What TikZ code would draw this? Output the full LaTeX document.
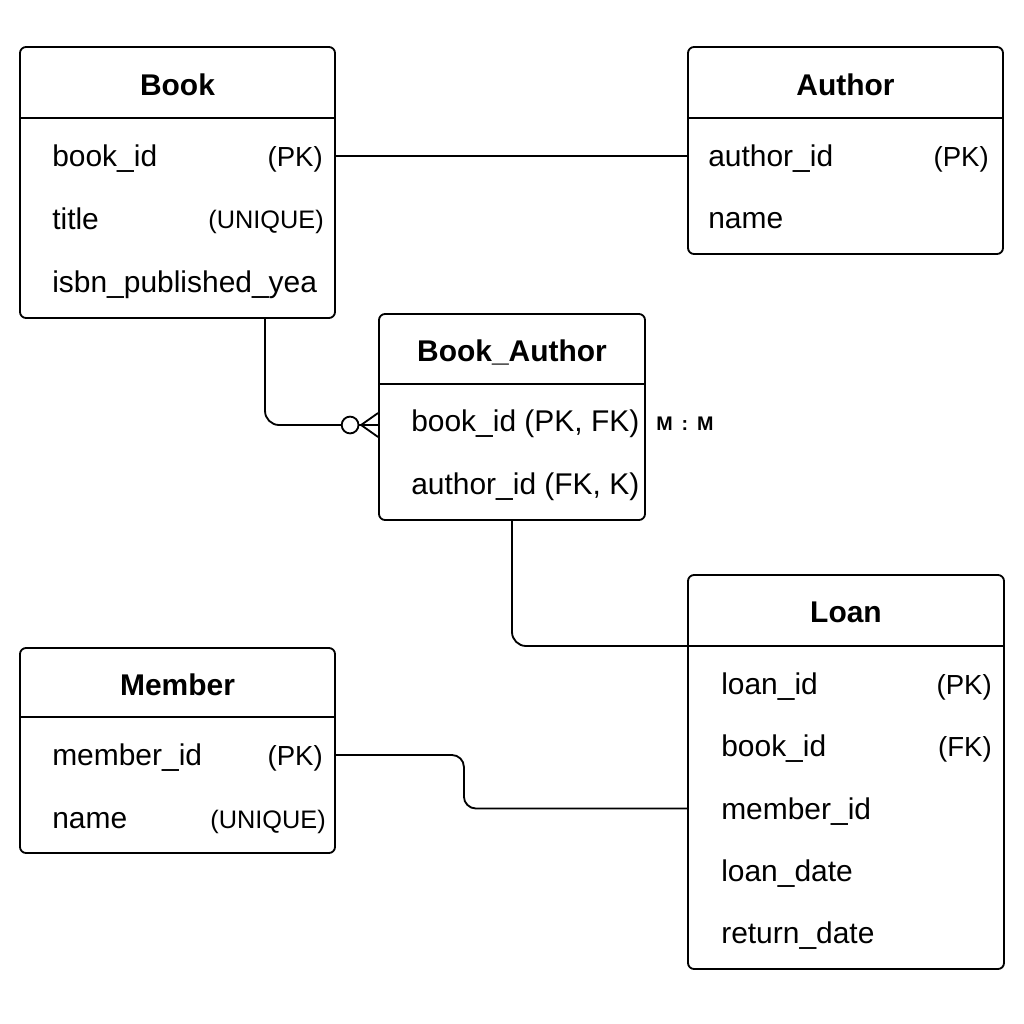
\documentclass[tikz,border=0pt]{standalone}
\usepackage{fontspec}
\setmainfont{Liberation Sans}
\usetikzlibrary{fit}

\tikzset{
  tbl/.style={draw,line width=1.3pt,rounded corners=4.3pt,inner sep=0pt},
  ttl/.style={inner sep=0pt,text height=15.2pt,text depth=0pt,font=\fontsize{21.3}{25}\selectfont\bfseries},
  attr/.style={anchor=west,inner sep=0pt,text height=15.2pt,text depth=0pt,font=\fontsize{21.3}{25}\selectfont},
  keytag/.style={anchor=east,inner sep=0pt,text height=15.2pt,text depth=0pt,font=\fontsize{19.6}{23}\selectfont},
  uqtag/.style={keytag,font=\fontsize{18}{22}\selectfont},
  card/.style={inner sep=0pt,font=\fontsize{14}{16}\selectfont\bfseries},
  link/.style={line width=1.3pt,rounded corners=10pt},
}

\begin{document}
\begin{tikzpicture}[x=0.025cm,y=-0.025cm]
\useasboundingbox (0,0) rectangle (1024,1024);
% tables
\node[tbl,fit={(20,47)(335,318)}] (book) {};
\node[tbl,fit={(688,47)(1003,254)}] (author) {};
\node[tbl,fit={(379,314)(645,520)}] (bookauthor) {};
\node[tbl,fit={(688,575)(1004,969)}] (loan) {};
\node[tbl,fit={(20,648)(335,853)}] (member) {};
\foreach \t/\y in {book/118,author/118,bookauthor/384,loan/646,member/717}{
  \coordinate (\t-hd) at (\t.west |- 0,\y);
  \draw[line width=1.3pt] (\t-hd) -- (\t-hd -| \t.east);
}
% titles
\node[ttl] (booktitle) at (book.north |- 0,85) {Book};
\node[ttl] (authortitle) at (author.north |- 0,85) {Author};
\node[ttl] (bookauthortitle) at (bookauthor.north |- 0,351) {Book\_Author};
\node[ttl] (loantitle) at (loan.north |- 0,612) {Loan};
\node[ttl] (membertitle) at (member.north |- 0,685) {Member};
% attributes
\foreach \txt [count=\i] in {book\_id,title,isbn\_published\_yea}
  \node[attr] (book\i) at (52,{156+63*(\i-1)}) {\txt};
\foreach \txt [count=\i] in {author\_id,name}
  \node[attr] (author\i) at (708,{156+62*(\i-1)}) {\txt};
\foreach \txt [count=\i] in {{book\_id (PK, FK)},{author\_id (FK, K)}}
  \node[attr] (bookauthor\i) at (411,{421+63*(\i-1)}) {\txt};
\foreach \txt [count=\i] in {loan\_id,book\_id,member\_id,loan\_date,return\_date}
  \node[attr] (loan\i) at (721,{684+62.25*(\i-1)}) {\txt};
\foreach \txt [count=\i] in {member\_id,name}
  \node[attr] (member\i) at (52,{755+63*(\i-1)}) {\txt};
% keys
\node[keytag] (bookpk) at (323,156) {(PK)};
\node[uqtag] (bookuq) at (324,218) {(UNIQUE)};
\node[keytag] (authorpk) at (989,156) {(PK)};
\node[keytag] (loanpk) at (992,684) {(PK)};
\node[keytag] (loanfk) at (992,746) {(FK)};
\node[keytag] (memberpk) at (323,755) {(PK)};
\node[uqtag] (memberuq) at (326,818) {(UNIQUE)};
\node[card] (mm) at (685,424) {M\hspace{.45em}:\hspace{.45em}M};
% relations
\draw[link] (book.east |- book1) -- (author.west |- author1);
\coordinate (cf) at ([yshift=-0.1cm]bookauthor.west |- bookauthor1);
\draw[link] ([xshift=2.1875cm]book.south) |- (cf);
\draw[line width=1.3pt] (cf) ++(0,-12) -- ++(-17,12) -- ++(17,12);
\draw[line width=1.3pt,fill=white] (cf) ++(-28,0) circle[radius=0.21cm];
\draw[link] (bookauthor.south) |- (loan-hd);
\draw[link,rounded corners=8.5pt] (member.east |- member1) -- ++(128,0) |- (loan.west |- loan3);
\end{tikzpicture}
\end{document}
